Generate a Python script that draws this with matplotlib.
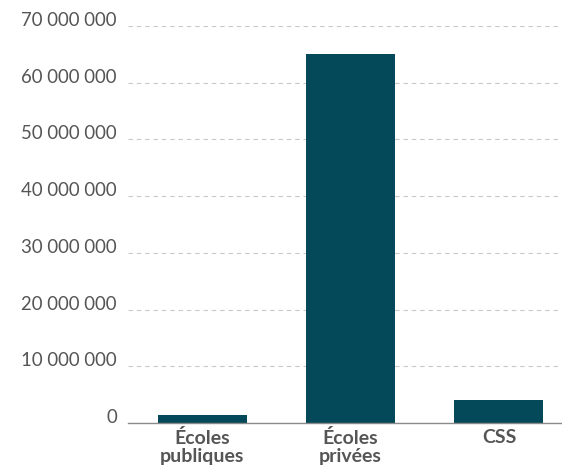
import matplotlib.pyplot as plt
from matplotlib.ticker import FuncFormatter

# Montants par type d'établissement
categories = ["Écoles\npubliques", "Écoles\nprivées", "CSS"]
montants = [1_400_000, 65_000_000, 4_100_000]
graduations = [0, 10_000_000, 20_000_000, 30_000_000, 40_000_000,
               50_000_000, 60_000_000, 70_000_000]

plt.rcParams['font.family'] = ['Lato', 'DejaVu Sans']

fig = plt.figure(figsize=(5.62, 4.72), dpi=100)
ax = fig.add_axes([128 / 562, 1 - 423 / 472, 1 - 128 / 562, 397 / 472])

x = range(len(categories))
ax.bar(x, montants, width=0.6, color="#03495a", zorder=3)

ax.set_ylim(0, 70_000_000)
ax.set_xlim(-0.5, 2.425)
ax.set_yticks(graduations)
ax.yaxis.set_major_formatter(FuncFormatter(lambda v, p: f"{v:,.0f}".replace(",", " ")))
ax.set_xticks(list(x))
ax.set_xticklabels(categories, fontweight="bold", fontsize=14, color="#555555",
                   linespacing=1.05)

ax.grid(axis="y", color="#c8c8c8", linestyle=(0, (4, 3.5)), linewidth=0.8, zorder=0)
ax.tick_params(axis="both", length=0)
ax.tick_params(axis="y", labelsize=13.4, labelcolor="#555555", pad=8)
ax.tick_params(axis="x", pad=4.5)
for lab in ax.get_yticklabels():
    lab.set_verticalalignment("baseline")

for side in ["top", "right", "left"]:
    ax.spines[side].set_visible(False)
ax.spines["bottom"].set_color("#8a8a8a")
ax.spines["bottom"].set_linewidth(1)
ax.spines["bottom"].set_zorder(4)

fig.savefig("out.png", dpi=100)
